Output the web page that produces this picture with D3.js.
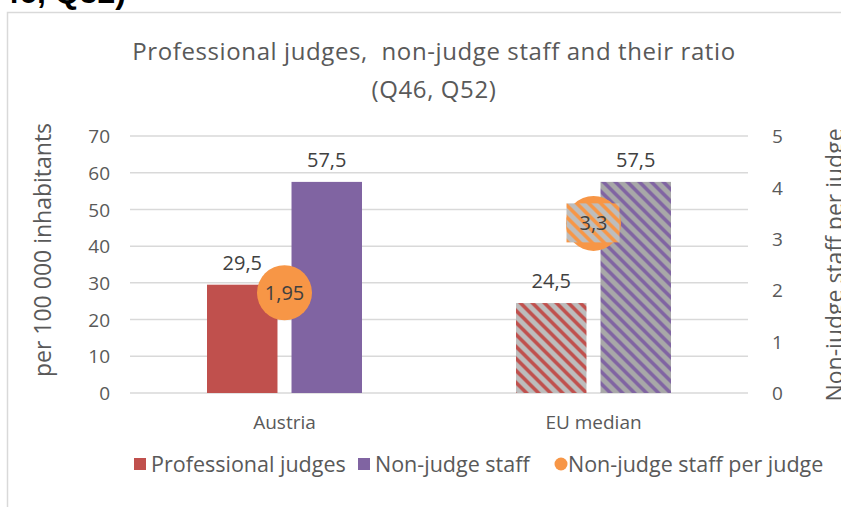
<!DOCTYPE html>
<meta charset="utf-8">
<style>
  body { margin: 0; background: #fff; }
  svg { display: block; font-family: "Open Sans", "Noto Sans", sans-serif; }
</style>
<body>
<script src="https://cdn.jsdelivr.net/npm/d3@7"></script>
<script>

// data
var categories = ["Austria", "EU median"];
var judges = [29.5, 24.5];
var staff = [57.5, 57.5];
var ratio = [1.95, 3.3];
var leftTicks = [0, 10, 20, 30, 40, 50, 60, 70];
var rightTicks = [0, 1, 2, 3, 4, 5];
var seriesNames = ["Professional judges", "Non-judge staff", "Non-judge staff per judge"];

var W = 841, H = 507;
var margin = {top: 136, right: 93, bottom: 114, left: 130},
    width = W - margin.left - margin.right,
    height = H - margin.top - margin.bottom;

var red = "#c0504d", purple = "#8064a2", orange = "#f79646";
var txt = "#595959", lbl = "#404040";

var comma = function(v) { return String(v).replace(".", ","); };

var svg = d3.select("body").append("svg")
    .attr("width", W)
    .attr("height", H);

// hatch patterns for the EU median marks
var defs = svg.append("defs");
function hatch(id, bg, fg) {
  var p = defs.append("pattern")
      .attr("id", id)
      .attr("patternUnits", "userSpaceOnUse")
      .attr("width", 12).attr("height", 12);
  p.append("rect").attr("width", 12).attr("height", 12).attr("fill", bg);
  p.append("path")
      .attr("d", "M-3,-3 L15,15 M-3,9 L3,15 M9,-3 L15,3")
      .attr("stroke", fg).attr("stroke-width", 3.6);
}
hatch("hRed", "#bdbdbd", red);
hatch("hPurple", "#a8a8a8", purple);
hatch("hOrange", "#bdbdbd", orange);

// heading fragment from the page above the chart
svg.append("text")
    .attr("x", 126).attr("y", 3)
    .attr("text-anchor", "end")
    .style("font-family", "'Liberation Sans', sans-serif")
    .style("font-weight", "bold")
    .style("font-size", "32px")
    .attr("fill", "#000")
    .text("(Q46, Q52)");

// chart frame
svg.append("path")
    .attr("d", "M7.5," + H + " V12.5 H" + W)
    .attr("fill", "none")
    .attr("stroke", "#d9d9d9")
    .attr("stroke-width", 1.5);

// title
var title = svg.append("text")
    .attr("text-anchor", "middle")
    .attr("fill", txt)
    .style("font-size", "24px")
    .style("letter-spacing", "0.6px");
title.append("tspan").attr("x", 434).attr("y", 60)
    .text("Professional judges,\u00a0 non-judge staff and their ratio");
title.append("tspan").attr("x", 434).attr("y", 98).text("(Q46, Q52)");

var g = svg.append("g")
    .attr("transform", "translate(" + margin.left + "," + margin.top + ")");

// scales
var x0 = d3.scaleBand().domain(categories).range([0, width]);
var x1 = d3.scaleBand().domain([0, 1]).range([-77.5, 77.5]).paddingInner(0.166);
var y = d3.scaleLinear().domain([0, 70]).range([height, 0]);
var y2 = d3.scaleLinear().domain([0, 5]).range([height, 0]);

// gridlines
g.selectAll(".grid")
    .data(leftTicks)
  .enter().append("line")
    .attr("x1", 0).attr("x2", width)
    .attr("y1", function(d) { return y(d); })
    .attr("y2", function(d) { return y(d); })
    .attr("stroke", "#d9d9d9")
    .attr("stroke-width", 1.5);

// left axis
var yAxis = g.append("g")
    .call(d3.axisLeft(y).tickValues(leftTicks).tickSize(0).tickPadding(20))
    .attr("font-family", null).attr("font-size", null);
yAxis.select(".domain").remove();
yAxis.selectAll("text").attr("fill", txt).attr("dy", "0.35em").style("font-size", "19px");

// right axis
var yAxis2 = g.append("g")
    .attr("transform", "translate(" + width + ",0)")
    .call(d3.axisRight(y2).tickValues(rightTicks).tickFormat(d3.format("d")).tickSize(0).tickPadding(24))
    .attr("font-family", null).attr("font-size", null);
yAxis2.select(".domain").remove();
yAxis2.selectAll("text").attr("fill", txt).attr("dy", "0.35em").style("font-size", "19px");

// x axis labels
var xAxis = g.append("g")
    .attr("transform", "translate(0," + height + ")")
    .call(d3.axisBottom(x0).tickSize(0).tickPadding(23))
    .attr("font-family", null).attr("font-size", null);
xAxis.select(".domain").remove();
xAxis.selectAll("text").attr("fill", txt).style("font-size", "19px");

// axis titles
svg.append("text")
    .attr("text-anchor", "middle")
    .attr("transform", "translate(51,250)rotate(-90)")
    .attr("fill", txt)
    .style("font-size", "23px")
    .text("per 100 000 inhabitants");

svg.append("text")
    .attr("text-anchor", "middle")
    .attr("transform", "translate(843,265)rotate(-90)")
    .attr("fill", txt)
    .style("font-size", "23px")
    .text("Non-judge staff per judge");

// bars
var groups = g.selectAll(".cat")
    .data(categories)
  .enter().append("g")
    .attr("transform", function(d) { return "translate(" + (x0(d) + x0.bandwidth() / 2) + ",0)"; });

groups.each(function(c, i) {
  var grp = d3.select(this);
  var vals = [judges[i], staff[i]];
  var fills = i === 0 ? [red, purple] : ["url(#hRed)", "url(#hPurple)"];
  vals.forEach(function(v, j) {
    grp.append("rect")
        .attr("x", x1(j))
        .attr("width", x1.bandwidth())
        .attr("y", y(v))
        .attr("height", height - y(v))
        .attr("fill", fills[j]);
    grp.append("text")
        .attr("x", x1(j) + x1.bandwidth() / 2)
        .attr("y", y(v) - 15)
        .attr("text-anchor", "middle")
        .attr("fill", lbl)
        .style("font-size", "20px")
        .text(comma(v));
  });

  // ratio marker
  var cy = y2(ratio[i]);
  grp.append("circle")
      .attr("cx", 0).attr("cy", cy).attr("r", 27.5)
      .attr("fill", orange);
  if (i === 1) {
    grp.append("rect")
        .attr("x", -27).attr("y", cy - 20)
        .attr("width", 53).attr("height", 39)
        .attr("fill", "url(#hOrange)");
  }
  grp.append("text")
      .attr("x", 0).attr("y", cy + 7)
      .attr("text-anchor", "middle")
      .attr("fill", lbl)
      .style("font-size", "20px")
      .text(comma(ratio[i]));
});

// legend
var legend = svg.append("g").attr("transform", "translate(0,464)");
var legX = [134, 358, 554];
seriesNames.forEach(function(s, i) {
  var lg = legend.append("g").attr("transform", "translate(" + legX[i] + ",0)");
  if (i < 2) {
    lg.append("rect")
        .attr("x", 0).attr("y", -6)
        .attr("width", 12).attr("height", 12)
        .attr("fill", i === 0 ? red : purple);
  } else {
    lg.append("circle")
        .attr("cx", 7).attr("cy", 0).attr("r", 6.5)
        .attr("fill", orange);
  }
  lg.append("text")
      .attr("x", i < 2 ? 17 : 14).attr("y", 7.5)
      .attr("fill", txt)
      .style("font-size", "21.5px")
      .text(s);
});

</script>
</body>
